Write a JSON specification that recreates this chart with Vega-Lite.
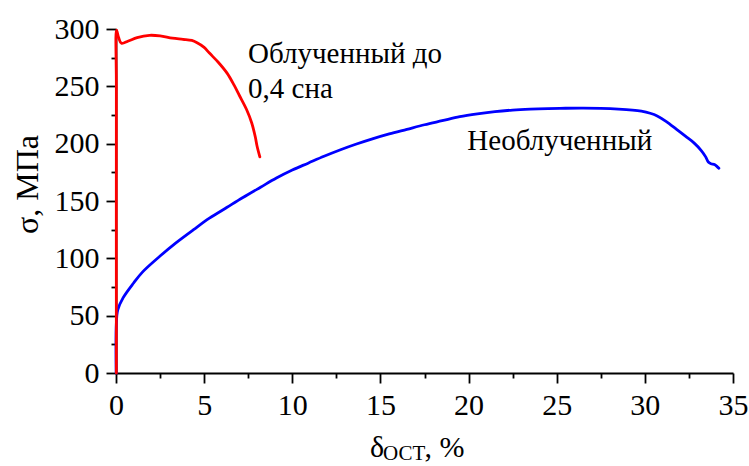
{
  "$schema": "https://vega.github.io/schema/vega-lite/v6.json",
  "width": 617,
  "height": 344,
  "autosize": {"type": "none"},
  "padding": {"left": 116, "top": 29, "right": 16, "bottom": 93},
  "background": "white",
  "config": {
    "view": {"stroke": null},
    "font": "Liberation Serif",
    "axis": {
      "domainColor": "black",
      "domainWidth": 1.8,
      "tickColor": "black",
      "tickWidth": 1.8,
      "labelColor": "black",
      "labelFont": "Liberation Serif",
      "labelFontSize": 30,
      "labelFlush": false,
      "labelOverlap": false,
      "titleFont": "Liberation Serif",
      "titleColor": "black",
      "titleFontWeight": "normal",
      "grid": false
    }
  },
  "datasets": {
    "curves": [
      {"series": "Необлученный", "i": 0, "x": 0.01, "y": 0},
      {"series": "Необлученный", "i": 1, "x": 0.02, "y": 43},
      {"series": "Необлученный", "i": 2, "x": 0.1, "y": 55},
      {"series": "Необлученный", "i": 3, "x": 0.4, "y": 65.5},
      {"series": "Необлученный", "i": 4, "x": 1.0, "y": 78.5},
      {"series": "Необлученный", "i": 5, "x": 1.5, "y": 88},
      {"series": "Необлученный", "i": 6, "x": 2.5, "y": 102},
      {"series": "Необлученный", "i": 7, "x": 3.4, "y": 113.5},
      {"series": "Необлученный", "i": 8, "x": 4.4, "y": 125},
      {"series": "Необлученный", "i": 9, "x": 5.3, "y": 135},
      {"series": "Необлученный", "i": 10, "x": 6.3, "y": 144.5},
      {"series": "Необлученный", "i": 11, "x": 7.2, "y": 153},
      {"series": "Необлученный", "i": 12, "x": 8.2, "y": 162},
      {"series": "Необлученный", "i": 13, "x": 9.1, "y": 170},
      {"series": "Необлученный", "i": 14, "x": 10.0, "y": 177},
      {"series": "Необлученный", "i": 15, "x": 10.9, "y": 183},
      {"series": "Необлученный", "i": 16, "x": 11.8, "y": 189},
      {"series": "Необлученный", "i": 17, "x": 12.7, "y": 194.5},
      {"series": "Необлученный", "i": 18, "x": 13.6, "y": 199.5},
      {"series": "Необлученный", "i": 19, "x": 14.5, "y": 204},
      {"series": "Необлученный", "i": 20, "x": 15.5, "y": 208.5},
      {"series": "Необлученный", "i": 21, "x": 16.5, "y": 212.5},
      {"series": "Необлученный", "i": 22, "x": 17.5, "y": 216.5},
      {"series": "Необлученный", "i": 23, "x": 18.5, "y": 220},
      {"series": "Необлученный", "i": 24, "x": 19.5, "y": 223.5},
      {"series": "Необлученный", "i": 25, "x": 20.5, "y": 226},
      {"series": "Необлученный", "i": 26, "x": 21.5, "y": 228},
      {"series": "Необлученный", "i": 27, "x": 22.5, "y": 229.3},
      {"series": "Необлученный", "i": 28, "x": 23.5, "y": 230.1},
      {"series": "Необлученный", "i": 29, "x": 24.5, "y": 230.6},
      {"series": "Необлученный", "i": 30, "x": 25.5, "y": 230.9},
      {"series": "Необлученный", "i": 31, "x": 26.5, "y": 231},
      {"series": "Необлученный", "i": 32, "x": 27.5, "y": 230.8},
      {"series": "Необлученный", "i": 33, "x": 28.5, "y": 230.2},
      {"series": "Необлученный", "i": 34, "x": 29.3, "y": 229.3},
      {"series": "Необлученный", "i": 35, "x": 29.8, "y": 228.3},
      {"series": "Необлученный", "i": 36, "x": 30.3, "y": 226.5},
      {"series": "Необлученный", "i": 37, "x": 30.7, "y": 224.2},
      {"series": "Необлученный", "i": 38, "x": 31.2, "y": 219.5},
      {"series": "Необлученный", "i": 39, "x": 31.8, "y": 212.5},
      {"series": "Необлученный", "i": 40, "x": 32.3, "y": 206.5},
      {"series": "Необлученный", "i": 41, "x": 32.8, "y": 200.5},
      {"series": "Необлученный", "i": 42, "x": 33.2, "y": 194},
      {"series": "Необлученный", "i": 43, "x": 33.45, "y": 188.5},
      {"series": "Необлученный", "i": 44, "x": 33.6, "y": 184},
      {"series": "Необлученный", "i": 45, "x": 33.75, "y": 182.5},
      {"series": "Необлученный", "i": 46, "x": 33.95, "y": 181.8},
      {"series": "Необлученный", "i": 47, "x": 34.1, "y": 180},
      {"series": "Необлученный", "i": 48, "x": 34.2, "y": 178.5},
      {"series": "Облученный", "i": 0, "x": 0.02, "y": 0},
      {"series": "Облученный", "i": 1, "x": 0.02, "y": 250},
      {"series": "Облученный", "i": 2, "x": 0.03, "y": 299},
      {"series": "Облученный", "i": 3, "x": 0.15, "y": 292.5},
      {"series": "Облученный", "i": 4, "x": 0.31, "y": 287.5},
      {"series": "Облученный", "i": 5, "x": 0.7, "y": 289.5},
      {"series": "Облученный", "i": 6, "x": 1.2, "y": 292.5},
      {"series": "Облученный", "i": 7, "x": 1.9, "y": 294.5},
      {"series": "Облученный", "i": 8, "x": 2.5, "y": 294},
      {"series": "Облученный", "i": 9, "x": 3.2, "y": 292},
      {"series": "Облученный", "i": 10, "x": 3.8, "y": 291},
      {"series": "Облученный", "i": 11, "x": 4.3, "y": 290},
      {"series": "Облученный", "i": 12, "x": 4.6, "y": 288},
      {"series": "Облученный", "i": 13, "x": 5.0, "y": 284},
      {"series": "Облученный", "i": 14, "x": 5.3, "y": 279},
      {"series": "Облученный", "i": 15, "x": 5.8, "y": 271},
      {"series": "Облученный", "i": 16, "x": 6.3, "y": 261.5},
      {"series": "Облученный", "i": 17, "x": 6.7, "y": 251},
      {"series": "Облученный", "i": 18, "x": 7.0, "y": 242},
      {"series": "Облученный", "i": 19, "x": 7.4, "y": 230},
      {"series": "Облученный", "i": 20, "x": 7.7, "y": 218},
      {"series": "Облученный", "i": 21, "x": 7.9, "y": 206},
      {"series": "Облученный", "i": 22, "x": 8.0, "y": 198},
      {"series": "Облученный", "i": 23, "x": 8.16, "y": 188.5}
    ],
    "labels": [
      {"x": 7.49, "y": 270.6, "text": "Облученный до"},
      {"x": 7.49, "y": 240, "text": "0,4 сна"},
      {"x": 19.93, "y": 194.8, "text": "Необлученный"}
    ]
  },
  "resolve": {"axis": {"x": "independent", "y": "independent"}},
  "layer": [
    {
      "data": {"name": "curves"},
      "mark": {"type": "line", "strokeWidth": 2.8, "strokeCap": "round", "strokeJoin": "round", "interpolate": "catmull-rom"},
      "encoding": {
        "x": {
          "field": "x", "type": "quantitative",
          "scale": {"domain": [0, 35], "nice": false, "zero": false},
          "axis": {"orient": "bottom", "values": [2.5, 7.5, 12.5, 17.5, 22.5, 27.5, 32.5], "tickSize": 5, "labels": false, "domain": false, "title": null}
        },
        "y": {
          "field": "y", "type": "quantitative",
          "scale": {"domain": [0, 300], "nice": false, "zero": false},
          "axis": {"orient": "left", "values": [25, 75, 125, 175, 225, 275], "tickSize": 5, "labels": false, "domain": false, "title": null}
        },
        "color": {
          "field": "series", "type": "nominal",
          "scale": {"domain": ["Необлученный", "Облученный"], "range": ["#0000ff", "#ff0000"]},
          "legend": null
        },
        "order": {"field": "i", "type": "quantitative"}
      }
    },
    {
      "data": {"name": "labels"},
      "mark": {"type": "text", "align": "left", "baseline": "alphabetic", "font": "Liberation Serif", "fontSize": 29, "color": "black"},
      "encoding": {
        "x": {
          "field": "x", "type": "quantitative",
          "scale": {"domain": [0, 35], "nice": false, "zero": false},
          "axis": {"orient": "bottom", "values": [0, 5, 10, 15, 20, 25, 30, 35], "tickSize": 10, "labelPadding": 7, "title": null}
        },
        "y": {
          "field": "y", "type": "quantitative",
          "scale": {"domain": [0, 300], "nice": false, "zero": false},
          "axis": {
            "orient": "left", "values": [0, 50, 100, 150, 200, 250, 300], "tickSize": 10, "labelPadding": 7,
            "title": "σ, МПа", "titleFontSize": 32, "titleAngle": 270, "titleAlign": "center", "titleBaseline": "middle",
            "titleX": -89, "titleY": 155
          }
        },
        "text": {"field": "text", "type": "nominal"}
      }
    },
    {
      "data": {"values": [{}]},
      "mark": {"type": "text", "align": "left", "baseline": "alphabetic", "font": "Liberation Serif", "fontSize": 30, "color": "black"},
      "encoding": {
        "x": {"datum": 14.41, "type": "quantitative", "scale": {"domain": [0, 35], "nice": false, "zero": false}, "axis": null},
        "y": {"datum": -73, "type": "quantitative", "scale": {"domain": [0, 300], "nice": false, "zero": false}, "axis": null},
        "text": {"value": "δ"}
      }
    },
    {
      "data": {"values": [{}]},
      "mark": {"type": "text", "align": "left", "baseline": "alphabetic", "font": "Liberation Serif", "fontSize": 21, "color": "black"},
      "encoding": {
        "x": {"datum": 15.15, "type": "quantitative", "scale": {"domain": [0, 35], "nice": false, "zero": false}, "axis": null},
        "y": {"datum": -75.6, "type": "quantitative", "scale": {"domain": [0, 300], "nice": false, "zero": false}, "axis": null},
        "text": {"value": "ОСТ"}
      }
    },
    {
      "data": {"values": [{}]},
      "mark": {"type": "text", "align": "left", "baseline": "alphabetic", "font": "Liberation Serif", "fontSize": 30, "color": "black"},
      "encoding": {
        "x": {"datum": 17.5, "type": "quantitative", "scale": {"domain": [0, 35], "nice": false, "zero": false}, "axis": null},
        "y": {"datum": -73, "type": "quantitative", "scale": {"domain": [0, 300], "nice": false, "zero": false}, "axis": null},
        "text": {"value": ", %"}
      }
    }
  ]
}
